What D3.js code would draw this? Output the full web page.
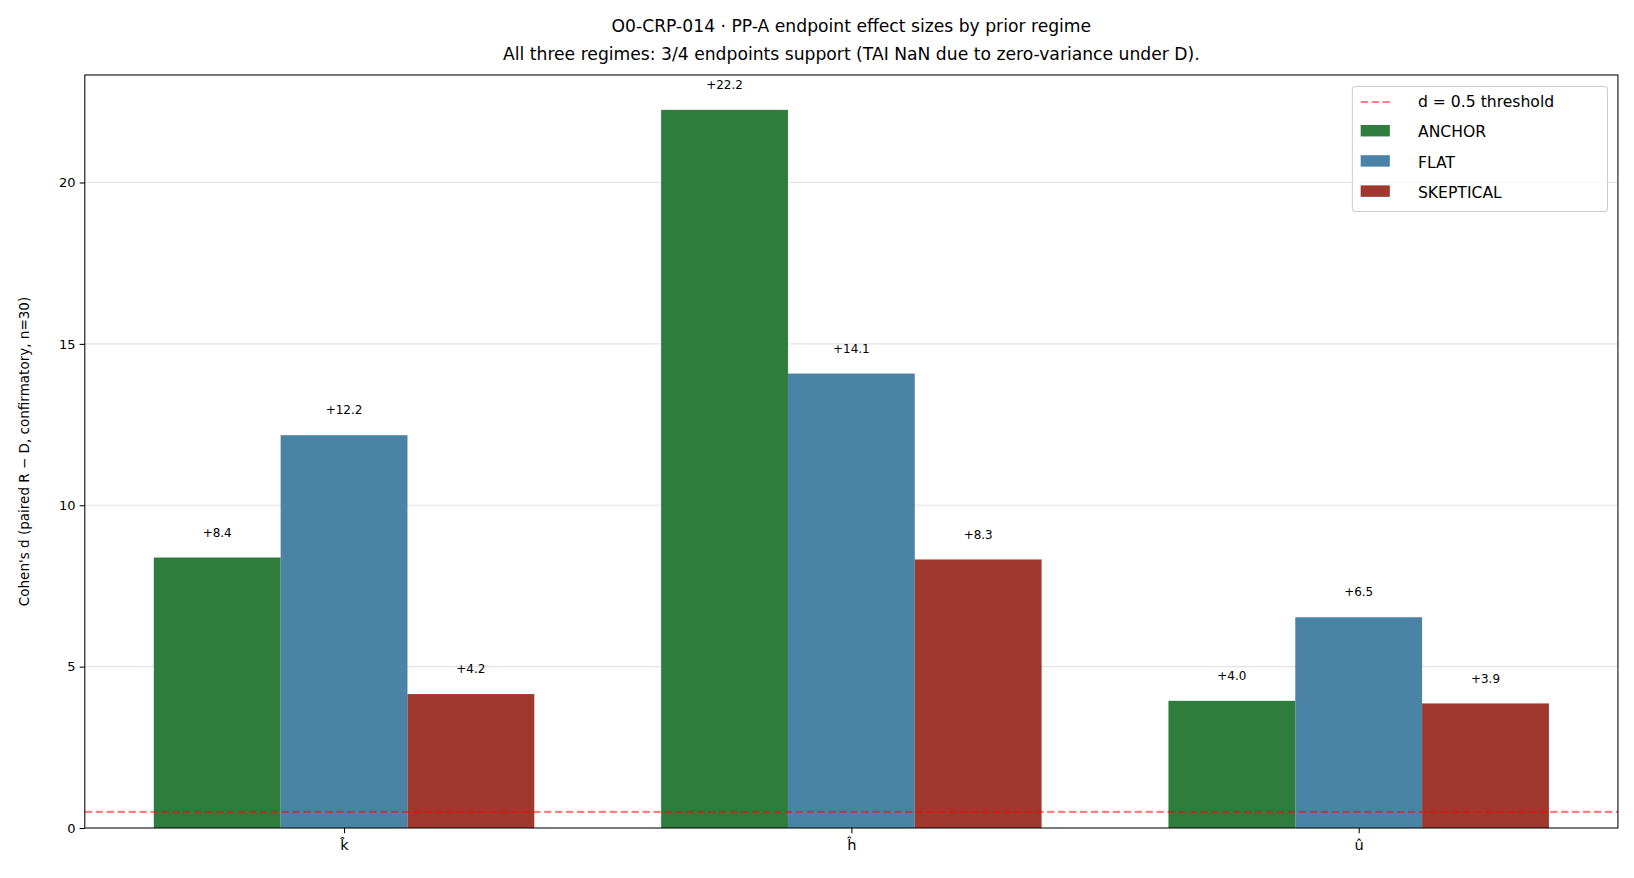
<!DOCTYPE html>
<html><head><meta charset="utf-8">
<script src="https://cdn.jsdelivr.net/npm/d3@7"></script>
<style>body{margin:0;background:#fff}text{font-family:"DejaVu Sans",sans-serif}</style>
</head><body>
<script>
const categories = ["k\u0302", "h\u0302", "u\u0302"];
const regimes = ["ANCHOR", "FLAT", "SKEPTICAL"];
const anchorVals = [8.38, 22.25, 3.94];
const flatVals = [12.17, 14.08, 6.53];
const skepticalVals = [4.15, 8.32, 3.86];
const valueLabels = [["+8.4","+22.2","+4.0"],["+12.2","+14.1","+6.5"],["+4.2","+8.3","+3.9"]];
const yTicks = [0, 5, 10, 15, 20];
const threshold = 0.5;
const colors = ["#2e7d3c", "#4a83a6", "#a0392d"];
const series = [anchorVals, flatVals, skepticalVals];

const W = 1568, H = 843;
const svg = d3.select("body").append("svg").attr("width",1634).attr("height",878)
  .attr("viewBox",`0 0 ${W} ${H}`);
const L = 81, R = 1553, T = 72, B = 795;
const x = d3.scaleLinear().domain([-0.511, 2.511]).range([L, R]);
const y = d3.scaleLinear().domain([0, 23.33]).range([B, T]);
const bw = x(0.25) - x(0);

// grid
svg.append("g").selectAll("line").data(yTicks.filter(t=>t>0)).join("line")
  .attr("x1",L).attr("x2",R).attr("y1",d=>y(d)).attr("y2",d=>y(d))
  .attr("stroke","#e3e3e3").attr("stroke-width",1);

// bars
series.forEach((vals, s) => {
  const g = svg.append("g");
  g.selectAll("rect").data(vals).join("rect")
    .attr("x",(d,i)=>x(i + (s-1)*0.25) - bw/2)
    .attr("width",bw)
    .attr("y",d=>y(d)).attr("height",d=>y(0)-y(d))
    .attr("fill",colors[s]);
  g.selectAll("text").data(vals).join("text")
    .attr("x",(d,i)=>x(i + (s-1)*0.25))
    .attr("y",d=>y(d)-20)
    .attr("text-anchor","middle").attr("font-size",11.5)
    .text((d,i)=>valueLabels[s][i]);
});

// threshold
svg.append("line").attr("x1",L).attr("x2",R).attr("y1",y(threshold)).attr("y2",y(threshold))
  .attr("stroke","#ff0000").attr("stroke-opacity",0.5).attr("stroke-width",2)
  .attr("stroke-dasharray","7,3.5");

// axes
const yAxis = svg.append("g").attr("transform",`translate(${L},0)`)
  .call(d3.axisLeft(y).tickValues(yTicks).tickSize(5).tickPadding(4));
yAxis.select(".domain").remove();
yAxis.selectAll("text").attr("font-size",12.5).attr("font-family","DejaVu Sans");
const xAxis = svg.append("g").attr("transform",`translate(0,${B})`)
  .call(d3.axisBottom(x).tickValues([0,1,2]).tickFormat(i=>categories[i]).tickSize(5).tickPadding(6));
xAxis.select(".domain").remove();
xAxis.selectAll("text").attr("font-size",14).attr("font-family","DejaVu Sans");
svg.append("rect").attr("x",L).attr("y",T).attr("width",R-L).attr("height",B-T)
  .attr("fill","none").attr("stroke","#000").attr("stroke-width",1);

// labels
svg.append("text").attr("transform",`translate(27,${(T+B)/2}) rotate(-90)`)
  .attr("text-anchor","middle").attr("font-size",13)
  .text("Cohen's d (paired R \u2212 D, confirmatory, n=30)");
svg.append("text").attr("x",(L+R)/2).attr("y",31).attr("text-anchor","middle").attr("font-size",16.5)
  .text("O0-CRP-014 \u00b7 PP-A endpoint effect sizes by prior regime");
svg.append("text").attr("x",(L+R)/2).attr("y",58).attr("text-anchor","middle").attr("font-size",16.5)
  .text("All three regimes: 3/4 endpoints support (TAI NaN due to zero-variance under D).");

// legend
const lg = svg.append("g").attr("transform","translate(1298,83)");
lg.append("rect").attr("width",245).attr("height",120).attr("rx",3)
  .attr("fill","#fff").attr("fill-opacity",0.8).attr("stroke","#ccc");
lg.append("line").attr("x1",8).attr("x2",36).attr("y1",15).attr("y2",15)
  .attr("stroke","#ff0000").attr("stroke-opacity",0.5).attr("stroke-width",2).attr("stroke-dasharray","7,3.5");
lg.append("text").attr("x",63).attr("y",20).attr("font-size",15).text("d = 0.5 threshold");
regimes.forEach((r,i)=>{
  lg.append("rect").attr("x",8).attr("y",37+i*29).attr("width",28).attr("height",11).attr("fill",colors[i]);
  lg.append("text").attr("x",63).attr("y",49+i*29).attr("font-size",15).text(r);
});
</script>
</body></html>
